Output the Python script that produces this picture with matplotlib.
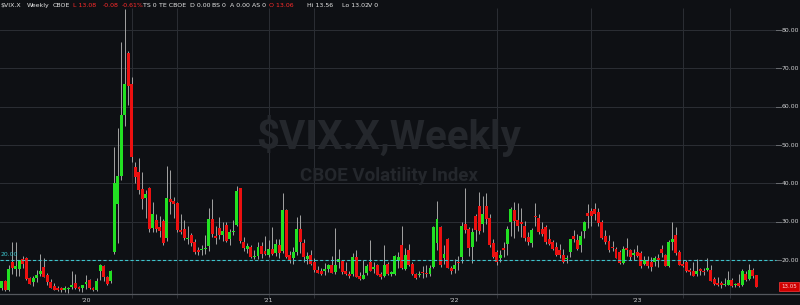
import numpy as np
import pandas as pd
import matplotlib
matplotlib.use('Agg')
import matplotlib.pyplot as plt
import matplotlib.transforms as mtrans

# weekly $VIX.X candles, weeks ending friday, first one 2019-07-19
open_2019 = [12.6, 14.6, 12.3, 19.5, 17.6, 17.7, 20.3, 20.5, 15.4, 14.2, 15.4, 16.3,
             18.1, 16.0, 14.3, 13.1, 12.8, 12.6, 12.3, 12.4, 12.9, 13.9, 12.7, 12.6]
high_2019 = [14.6, 14.8, 18.6, 24.6, 24.8, 19.9, 21.1, 20.9, 15.6, 15.7, 17.4, 21.5,
             20.4, 16.5, 15.0, 14.0, 13.2, 13.0, 13.3, 12.9, 17.0, 16.3, 13.3, 13.6]
low_2019 = [12.2, 12.0, 12.0, 16.3, 15.9, 15.8, 17.8, 14.8, 13.7, 13.3, 14.2, 15.8,
            15.6, 13.4, 12.6, 12.3, 12.0, 11.7, 11.6, 11.5, 12.5, 12.5, 11.8, 11.7]
close_2019 = [14.5, 12.2, 17.6, 18.0, 18.5, 19.9, 19.0, 15.0, 13.7, 15.3, 16.2, 17.0,
              15.6, 14.3, 12.7, 12.3, 12.1, 12.1, 12.3, 12.6, 13.6, 12.6, 12.5, 13.4]

open_2020 = [13.8, 14.8, 12.6, 12.2, 17.0, 18.4, 15.5, 14.4, 22.0, 34.6, 41.9, 57.8, 74.0,
             66.0, 44.3, 43.0, 38.5, 36.3, 38.9, 28.3, 30.5, 28.5, 30.3, 25.7, 36.0, 35.5,
             35.0, 27.8, 28.0, 25.5, 26.5, 24.8, 22.5, 22.5, 22.9, 23.7, 30.7, 26.0, 28.4,
             26.4, 29.2, 25.5, 27.3, 29.1, 38.7, 24.8, 23.0, 23.5, 20.7, 21.0, 23.6, 22.4, 21.4]
high_2020 = [16.2, 15.0, 13.0, 15.3, 19.0, 18.6, 15.9, 17.5, 49.5, 54.4, 76.8, 85.5, 74.5,
             67.7, 45.5, 46.7, 43.0, 38.3, 39.0, 35.1, 32.0, 31.5, 30.8, 44.4, 43.5, 36.5,
             35.2, 32.0, 30.4, 28.8, 27.0, 25.5, 23.3, 23.9, 26.4, 33.6, 35.9, 28.9, 31.3,
             30.0, 29.9, 28.0, 30.4, 39.3, 38.9, 25.9, 24.5, 23.9, 22.6, 24.7, 24.7, 26.2, 25.1]
low_2020 = [12.5, 12.4, 11.8, 11.8, 14.9, 14.5, 13.4, 14.0, 21.5, 24.4, 41.0, 55.0, 60.5,
            45.6, 40.0, 37.2, 33.3, 30.9, 27.4, 27.3, 27.4, 25.9, 24.0, 24.9, 31.9, 31.0,
            27.2, 26.7, 25.2, 24.3, 23.7, 21.6, 21.2, 21.3, 21.5, 22.3, 25.9, 24.1, 25.6,
            25.0, 24.8, 24.0, 26.5, 28.9, 24.5, 22.4, 21.8, 20.5, 20.2, 20.3, 20.6, 21.3, 20.9]
close_2020 = [14.0, 12.6, 12.1, 14.6, 18.8, 15.5, 13.7, 17.1, 40.1, 41.9, 57.8, 66.0, 65.5,
              46.8, 41.7, 38.2, 35.9, 37.2, 28.0, 31.9, 28.2, 27.5, 24.5, 36.1, 35.1, 34.7,
              27.7, 27.3, 25.7, 25.8, 24.5, 22.2, 22.1, 22.5, 23.0, 30.8, 26.9, 25.8, 26.4,
              27.6, 25.0, 27.4, 27.6, 38.0, 24.9, 23.1, 23.7, 20.8, 20.8, 23.3, 21.6, 21.5, 22.8]

open_2021 = [22.8, 21.8, 23.9, 22.3, 33.0, 21.2, 20.4, 22.0, 28.0, 24.5, 20.2, 21.4, 19.5,
             17.4, 17.0, 17.2, 17.6, 18.8, 16.9, 19.5, 19.8, 17.2, 16.4, 16.4, 20.9, 15.8,
             15.1, 16.5, 19.6, 17.7, 18.6, 16.4, 15.9, 18.9, 16.4, 16.3, 19.7, 24.0, 17.6,
             22.5, 18.9, 16.4, 16.0, 16.6, 16.6, 16.4, 18.2, 24.5, 28.6, 20.6, 25.6, 17.9]
high_2021 = [28.6, 25.6, 25.6, 37.5, 33.3, 22.4, 23.5, 31.2, 31.7, 25.4, 22.0, 22.6, 20.4,
             18.4, 17.8, 19.3, 19.0, 21.1, 28.4, 22.8, 20.1, 19.6, 17.1, 21.8, 22.5, 16.8,
             19.9, 19.0, 25.1, 19.6, 19.0, 16.8, 24.0, 19.4, 17.0, 21.3, 22.0, 28.8, 23.1,
             24.1, 19.6, 16.7, 17.2, 18.4, 18.7, 18.6, 29.0, 35.3, 28.9, 24.0, 25.7, 18.4]
low_2021 = [21.3, 21.1, 20.5, 21.9, 20.6, 19.1, 19.0, 21.2, 21.8, 19.6, 18.9, 18.7, 16.9,
            16.5, 16.0, 16.0, 16.8, 16.6, 16.4, 17.9, 16.4, 16.2, 15.3, 15.9, 15.6, 14.8,
            15.0, 16.0, 17.0, 16.5, 16.1, 15.0, 15.6, 16.1, 15.8, 16.2, 18.0, 17.6, 17.4,
            18.5, 16.1, 15.0, 15.5, 15.2, 15.5, 15.9, 17.8, 22.6, 18.2, 18.9, 17.9, 16.3]
close_2021 = [21.6, 24.3, 21.9, 33.1, 20.9, 20.0, 22.1, 28.0, 24.7, 20.7, 21.0, 18.9, 17.3,
              16.7, 16.3, 17.3, 18.6, 16.7, 18.8, 20.2, 16.8, 16.4, 15.7, 20.7, 15.6, 15.1,
              16.2, 18.5, 17.2, 18.2, 16.2, 15.5, 18.6, 16.4, 16.4, 21.0, 20.8, 17.8, 21.2,
              18.8, 16.3, 15.4, 16.3, 16.5, 16.3, 17.9, 28.6, 30.7, 18.7, 21.6, 18.0, 17.2]

open_2022 = [17.6, 19.4, 20.9, 29.3, 28.0, 23.4, 31.5, 34.0, 29.5, 34.0, 31.0, 24.5, 22.0,
             20.5, 22.9, 24.3, 30.0, 33.0, 30.4, 30.0, 29.0, 26.0, 24.5, 31.5, 30.9, 28.0,
             28.5, 25.5, 24.7, 23.4, 22.5, 21.3, 20.3, 22.1, 26.3, 25.3, 23.9, 27.6, 32.2,
             32.8, 33.2, 32.4, 29.8, 26.2, 25.0, 23.4, 22.8, 22.0, 19.1, 23.2, 22.5, 21.4]
high_2022 = [20.2, 21.0, 29.8, 38.9, 28.6, 28.4, 32.0, 37.8, 36.6, 37.5, 32.0, 25.4, 22.5,
             22.6, 24.6, 28.8, 33.7, 35.2, 35.0, 33.6, 30.2, 27.3, 28.4, 35.0, 32.0, 30.0,
             29.2, 28.0, 25.3, 24.6, 24.2, 22.9, 21.3, 25.6, 27.7, 26.9, 27.6, 30.2, 34.5,
             33.6, 34.9, 33.6, 30.5, 27.8, 26.5, 24.9, 23.3, 22.6, 23.7, 25.8, 22.8, 23.0]
low_2022 = [16.6, 17.4, 19.2, 27.0, 21.1, 19.3, 25.0, 26.8, 27.3, 29.5, 23.3, 20.6, 18.6,
            19.5, 20.7, 21.4, 26.2, 25.7, 27.6, 26.1, 25.0, 24.0, 23.5, 28.8, 26.7, 26.3,
            24.2, 24.0, 22.7, 21.1, 20.6, 19.1, 19.2, 20.8, 24.6, 22.6, 22.1, 25.8, 28.3,
            28.8, 30.5, 28.8, 25.6, 24.3, 22.1, 22.4, 20.5, 19.0, 19.0, 21.0, 19.9, 19.9]
close_2022 = [18.8, 19.2, 28.9, 27.7, 23.2, 27.4, 27.8, 27.6, 32.0, 30.8, 23.9, 20.8, 19.6,
              21.2, 22.7, 28.2, 33.4, 30.2, 28.9, 29.4, 25.7, 24.8, 27.8, 31.1, 27.2, 26.7,
              24.6, 24.2, 23.0, 21.3, 21.2, 19.5, 20.6, 25.6, 25.5, 22.8, 26.3, 29.9, 31.6,
              31.4, 32.0, 29.7, 25.8, 24.6, 22.5, 23.1, 20.5, 19.1, 22.8, 22.6, 20.9, 21.7]

open_2023 = [22.0, 21.8, 18.9, 19.8, 19.4, 19.4, 20.6, 22.9, 21.3, 18.5, 24.8, 26.5, 22.2,
             19.0, 19.4, 17.3, 17.2, 16.3, 17.6, 17.2, 17.3, 17.5, 15.0, 14.0, 13.9, 13.4,
             13.6, 14.9, 13.4, 14.0, 13.6, 16.3, 15.0, 17.5, 16.0]
high_2023 = [23.8, 22.3, 21.1, 21.0, 20.7, 21.0, 21.5, 23.8, 21.6, 25.1, 29.9, 28.7, 22.5,
             20.0, 20.1, 18.0, 19.4, 20.3, 18.0, 17.9, 20.4, 18.6, 15.5, 15.6, 14.6, 15.2,
             17.1, 15.2, 14.0, 16.3, 17.6, 17.1, 18.9, 17.9, 16.1]
low_2023 = [20.9, 18.0, 18.8, 18.0, 17.1, 18.4, 18.3, 20.8, 18.5, 18.3, 22.5, 21.2, 18.6,
            18.2, 16.9, 16.1, 15.7, 15.9, 16.0, 16.0, 17.0, 14.5, 13.6, 13.1, 12.7, 13.3,
            13.4, 12.9, 12.9, 12.9, 13.2, 14.6, 14.8, 15.3, 13.0]
close_2023 = [21.1, 18.4, 19.9, 18.5, 18.3, 20.5, 20.0, 21.7, 18.5, 24.8, 25.5, 21.7, 18.7,
              18.4, 17.1, 16.8, 15.8, 17.2, 17.0, 16.8, 18.0, 14.6, 13.8, 13.5, 13.4, 13.6,
              14.8, 13.3, 13.6, 13.3, 17.1, 14.8, 17.3, 15.7, 13.05]

first_week = '2019-07-19'
y_ticks = [20, 30, 40, 50, 60, 70, 80]
year_labels = ["'20", "'21", "'22", "'23"]
grid_weeks = [13, 26, 52, 65, 117, 144, 170, 183.5]
ref_level = 20.0

header = [
    (0, '$VIX.X', 'w'), (27, 'Weekly', 'w'), (53, 'CBOE', 'w'),
    (73, 'L 13.08', 'r'), (103, '-0.08', 'r'), (122, '-0.61%', 'r'),
    (143, 'TS 0', 'w'), (159, 'TE CBOE', 'w'), (190, 'D 0.00', 'w'),
    (212, 'BS 0', 'w'), (230, 'A 0.00', 'w'), (252, 'AS 0', 'w'),
    (269, 'O 13.06', 'r'), (307, 'Hi 13.56', 'w'), (342, 'Lo 13.02', 'w'),
    (368, 'V 0', 'w'),
]

BG = '#0e1014'
UP = '#22e022'
DOWN = '#ec1010'
WICK = '#a3a3a3'
GRID = '#2b2e34'
TEXT = '#cfd0d2'

# pixel geometry of the reference (800x305)
W, H = 800, 305
PX0, PXW = 86.0, 3.51          # x pixel of week 0 (first week of 2020), px per week
PY20, PYU = 260.0, 3.833       # y pixel of 20.00, px per vix point
AX_BOTTOM = 294


def px2x(px):
    return (px - PX0) / PXW


def py2y(py):
    return 20 + (PY20 - py) / PYU


def main():
    o = np.array(open_2019 + open_2020 + open_2021 + open_2022 + open_2023)
    hi = np.array(high_2019 + high_2020 + high_2021 + high_2022 + high_2023)
    lo = np.array(low_2019 + low_2020 + low_2021 + low_2022 + low_2023)
    c = np.array(close_2019 + close_2020 + close_2021 + close_2022 + close_2023)
    weeks = pd.date_range(first_week, periods=len(c), freq='W-FRI')
    # week 0 = first week of 2020
    idx = np.arange(len(c)) - len(close_2019)

    plt.rcParams['lines.scale_dashes'] = False
    fig = plt.figure(figsize=(W / 100, H / 100), dpi=100)
    fig.patch.set_facecolor(BG)
    ax = fig.add_axes([0, (H - AX_BOTTOM) / H, 1, AX_BOTTOM / H])
    ax.set_facecolor(BG)
    ax.set_xlim(px2x(0), px2x(W))
    ax.set_ylim(py2y(AX_BOTTOM), py2y(0))

    drawGrid(ax)
    drawWatermark(ax)
    plotCandles(ax, idx, o, hi, lo, c)
    drawAxisLabels(ax, idx, weeks)
    drawLastPrice(ax, c[-1])
    drawHeader(fig)

    for s in ['top', 'left', 'right']:
        ax.spines[s].set_visible(False)
    ax.spines['bottom'].set_color('#55585e')
    ax.spines['bottom'].set_linewidth(0.9)
    ax.set_xticks([])
    ax.set_yticks([])

    fig.savefig('out.png', dpi=100, facecolor=BG)


def drawGrid(ax):
    xr = px2x(776)
    for v in y_ticks:
        ax.plot([px2x(0), xr], [v, v], color=GRID, lw=0.7, zorder=1)
        ax.plot([xr, px2x(781)], [v, v], color='#6a6d72', lw=0.7, zorder=1)
    ax.vlines(grid_weeks, py2y(AX_BOTTOM + 4), py2y(8), color=GRID, lw=0.7,
              zorder=1, clip_on=False)
    ax.plot([px2x(0), xr], [ref_level, ref_level], color='#3cc4cc', lw=0.8,
            dashes=(2.3, 1.6), zorder=4)


def drawWatermark(ax):
    ax.text(px2x(389), py2y(136), '$VIX.X,Weekly', ha='center', va='center',
            fontsize=29, fontweight='bold', family='Roboto', color='#24272c', zorder=2)
    ax.text(px2x(389), py2y(176), 'CBOE Volatility Index', ha='center', va='center',
            fontsize=13.5, fontweight='bold', family='Roboto', color='#24272c', zorder=2)


def plotCandles(ax, idx, o, hi, lo, c):
    top = np.maximum(hi, np.maximum(o, c))
    bot = np.minimum(lo, np.minimum(o, c))
    ax.vlines(idx, bot, top, color=WICK, lw=0.7, zorder=3)
    colors = [UP if cc >= oo else DOWN for oo, cc in zip(o, c)]
    heights = np.maximum(np.abs(c - o), 0.35)
    ax.bar(idx, heights, bottom=np.minimum(o, c), width=0.84, color=colors,
           linewidth=0, zorder=3)


def drawAxisLabels(ax, idx, weeks):
    for v in y_ticks:
        ax.text(px2x(790), v, '%.2f' % v, ha='center', va='center',
                fontsize=4.4, color=TEXT)
    ax.text(px2x(1), py2y(254), '%.2f' % ref_level, ha='left', va='center',
            fontsize=4.4, color='#3cc4cc')
    trans = mtrans.blended_transform_factory(ax.transData, ax.transAxes)
    years = weeks.year
    starts = [i for i in range(1, len(years)) if years[i] != years[i - 1]]
    for k, lab in zip(starts, year_labels):
        ax.text(idx[k], -7 / AX_BOTTOM, lab, transform=trans, ha='center',
                va='center', fontsize=4.4, color=TEXT, clip_on=False)


def drawLastPrice(ax, last):
    ax.text(px2x(789), last, '%.2f' % last, ha='center', va='center',
            fontsize=4.0, color='#ffd6d6',
            bbox=dict(boxstyle='square,pad=0.35', fc='#d00000', ec='#ff3a3a', lw=0.5),
            zorder=6)


def drawHeader(fig):
    cols = {'w': '#e6e6e6', 'r': '#ff2b2b'}
    for px, s, col in header:
        fig.text(px / W, 1 - 5.5 / H, s, ha='left', va='center', fontsize=4.5,
                 color=cols[col])


if __name__ == "__main__":
    main()
